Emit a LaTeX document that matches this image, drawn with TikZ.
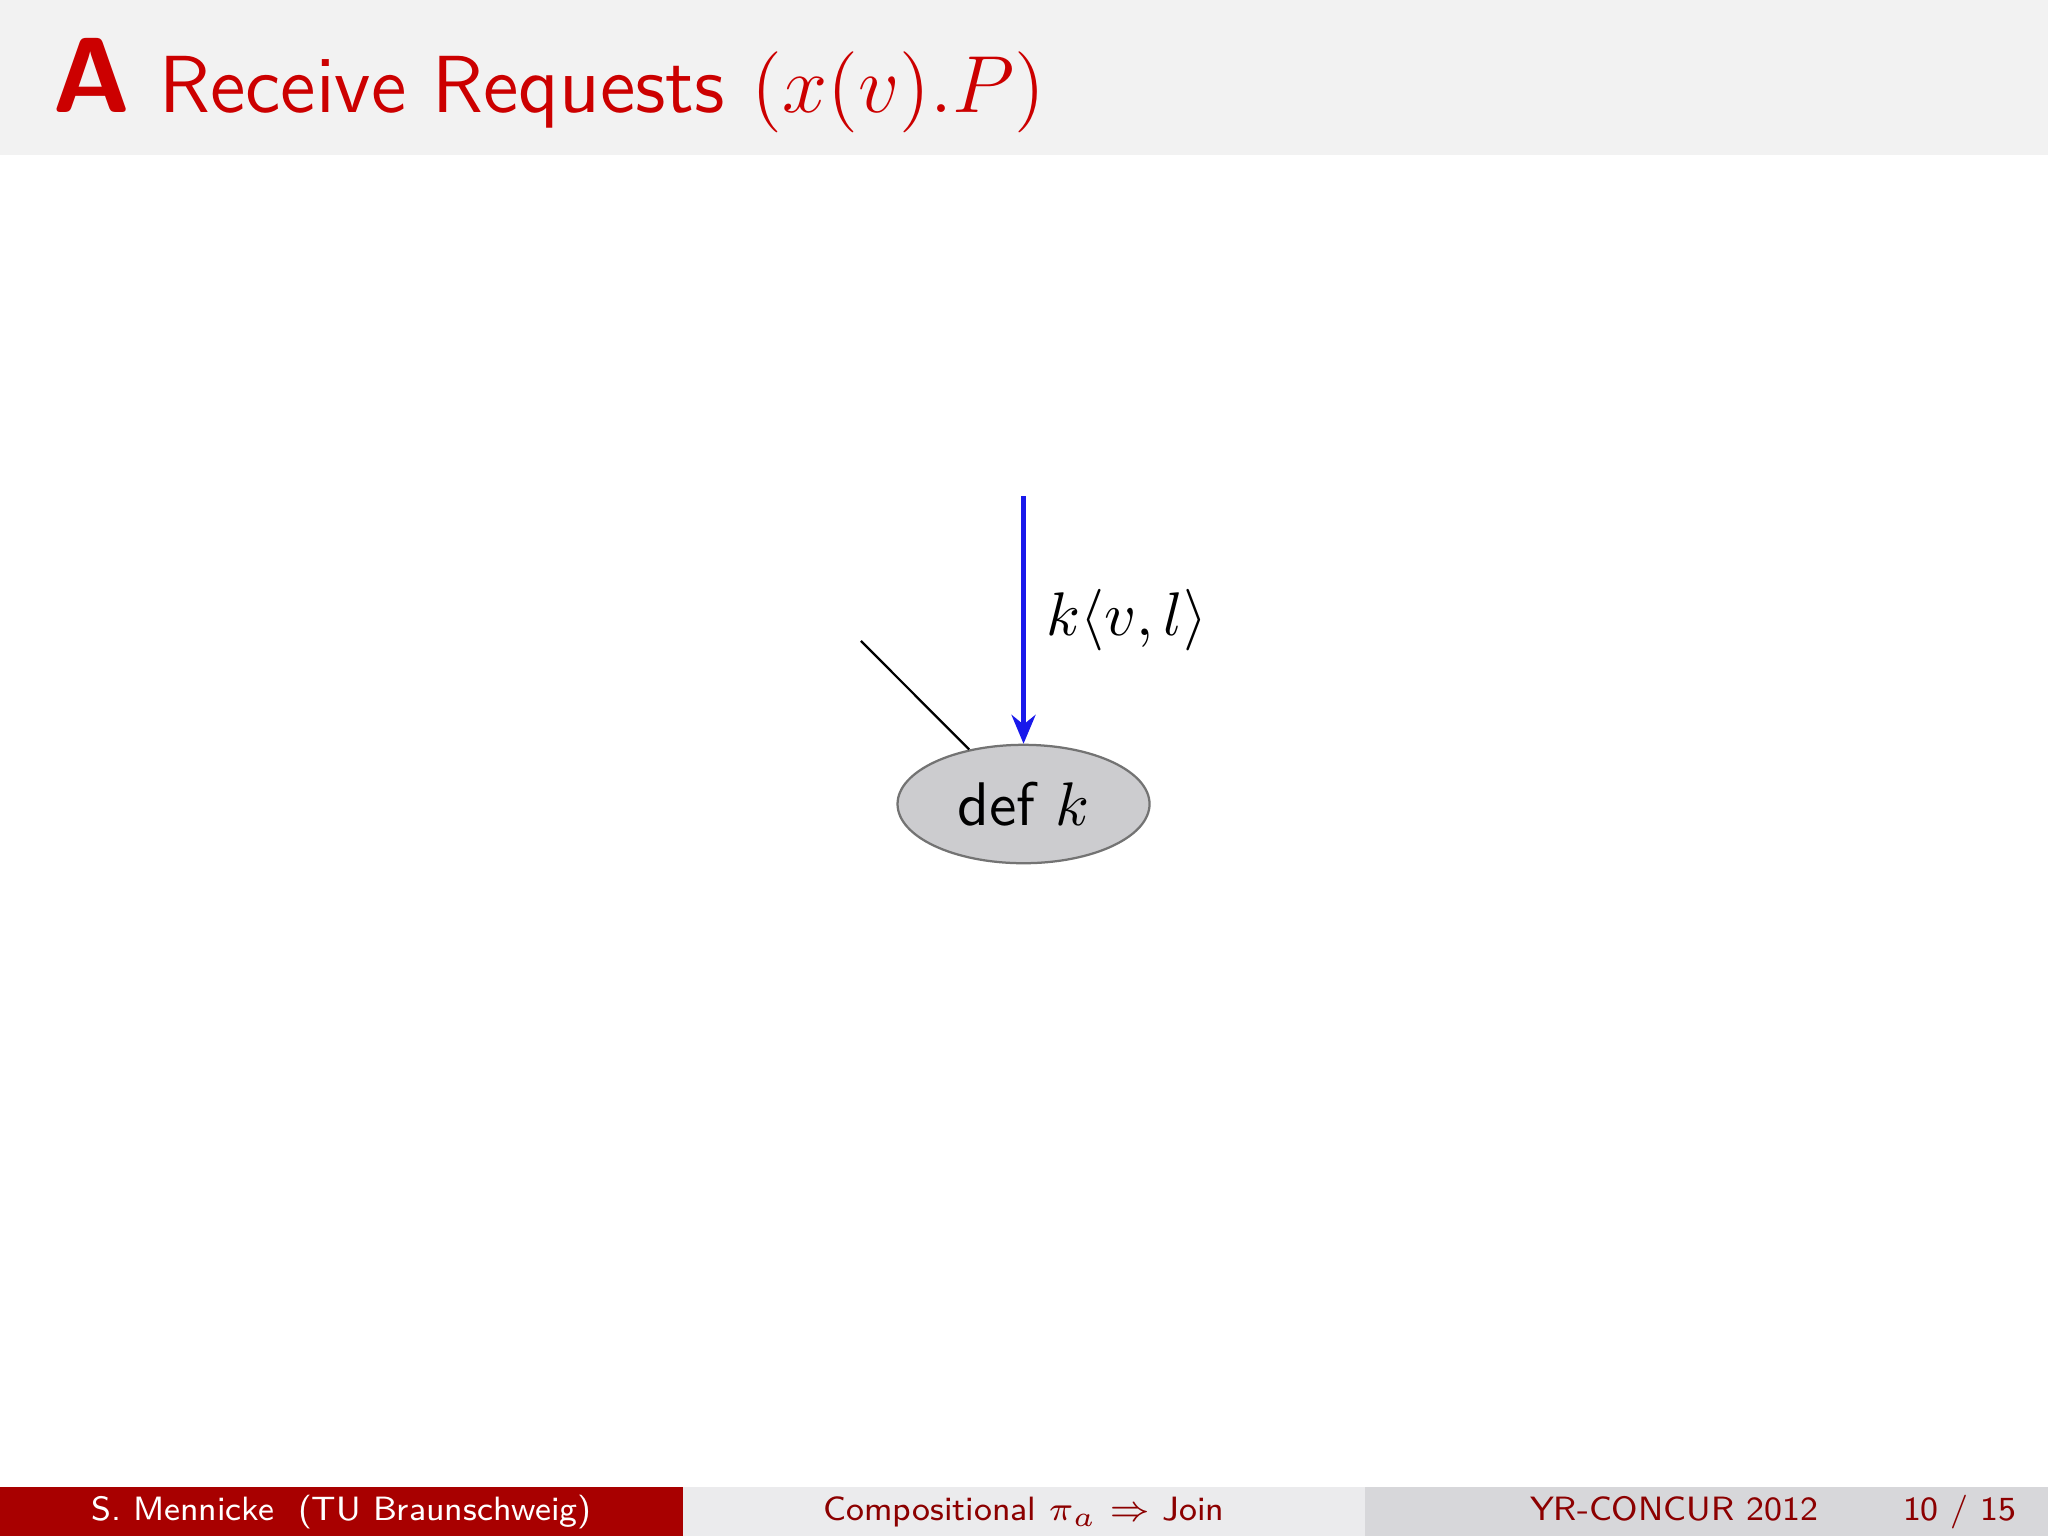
\documentclass[tikz,border=0pt,11pt]{standalone}
\usetikzlibrary{arrows.meta}
\usetikzlibrary{shapes.geometric}

\definecolor{titlered}{RGB}{204,0,0}
\definecolor{titlebg}{RGB}{242,242,242}
\definecolor{footred}{RGB}{168,0,0}
\definecolor{foottext}{RGB}{140,0,0}
\definecolor{footmid}{RGB}{235,235,237}
\definecolor{footright}{RGB}{215,215,218}
\definecolor{msgblue}{RGB}{25,25,235}
\definecolor{nodefill}{RGB}{204,204,207}

\begin{document}
\begin{tikzpicture}[
  foot/.style={font=\fontsize{6}{7}\selectfont\sffamily, inner sep=0pt},
  msg/.style={msgblue, thick, -{Stealth[length=1.8mm, width=1.5mm, inset=0.6mm]}},
]
\useasboundingbox (0,0) rectangle (12.8,9.6);
\fill[white] (0,0) rectangle (12.8,9.6);

% frame title
\fill[titlebg] (0,8.631) rectangle (12.8,9.6);
\node[anchor=base west, inner sep=0pt, text=titlered, font=\fontsize{19}{22}\selectfont\sffamily\bfseries] (letter) at (0.32,8.894) {A};
\node[anchor=base west, inner sep=0pt, text=titlered, font=\Large\sffamily] (title) at (0.99,8.894) {Receive Requests $(x(v).P)$};

% footline
\fill[footred] (0,0) rectangle (4.267,0.306);
\fill[footmid] (4.267,0) rectangle (8.533,0.306);
\fill[footright] (8.533,0) rectangle (12.8,0.306);
\node[foot, anchor=base, text=white] (author) at (2.133,0.095) {S. Mennicke\ \ (TU Braunschweig)};
\node[foot, anchor=base, text=foottext] (talk) at (6.4,0.095) {Compositional $\pi_a \Rightarrow$ Join};
\node[foot, anchor=base east, text=foottext] (venue) at (11.37,0.095) {YR-CONCUR 2012};
\node[foot, anchor=base east, text=foottext] (page) at (12.61,0.095) {10 / 15};

% the definition and its incoming message
\node[ellipse, draw=black!55, fill=nodefill, minimum width=1.575cm, minimum height=0.74cm, inner sep=0pt, font=\sffamily] (defk) at (6.397,4.575) {def $k$};
\coordinate (src) at (6.397,6.5);
\coordinate (other) at (5.381,5.594);

\draw[msg] (src) -- node[midway, right, text=black] (lbl) {$k\langle v,l\rangle$} (defk);
\draw[thin] (other) -- (defk);
\end{tikzpicture}
\end{document}
